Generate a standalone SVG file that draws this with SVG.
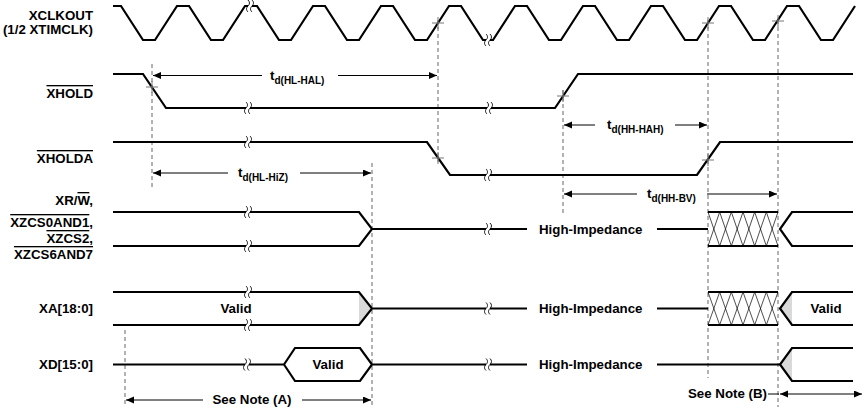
<svg xmlns="http://www.w3.org/2000/svg" width="864" height="416" viewBox="0 0 864 416">
<style>
text{font-family:"Liberation Sans",Arial,sans-serif;font-weight:bold;font-size:13.3px;fill:#000}
.lbl{text-anchor:end}
.mid{text-anchor:middle}
.sub{font-size:10px}
.ol{text-decoration:overline}
.sig{fill:none;stroke:#000;stroke-width:2.2;stroke-linejoin:miter}
.dash{fill:none;stroke:#666;stroke-width:1;stroke-dasharray:4 3}
.arr{fill:none;stroke:#000;stroke-width:1}
.as{marker-start:url(#ah)}
.ae{marker-end:url(#ah)}
.xh{fill:none;stroke:#777;stroke-width:1}
.grey{fill:#d9d9d9;stroke:none}
.hat{fill:none;stroke:#000;stroke-width:0.7}
</style>
<defs>
<marker id="ah" markerWidth="9" markerHeight="8" refX="8" refY="3.5" orient="auto-start-reverse" markerUnits="userSpaceOnUse">
<path d="M0,0 L8,3.5 L0,7 Z" fill="#000"/>
</marker>
<g id="brk">
<rect x="-2" y="-3" width="4" height="6" fill="#fff"/>
<path d="M-2,-6 c2,2 2,4 0,6 c-2,2 -2,4 0,6 M2,-6 c2,2 2,4 0,6 c-2,2 -2,4 0,6" fill="none" stroke="#000" stroke-width="0.9"/>
</g>
<path id="hatch" class="hat" d="M0,0 L11.67,34 M11.67,0 L23.33,34 M23.33,0 L35,34 M35,0 L46.67,34 M46.67,0 L58.33,34 M58.33,0 L70,34 M11.67,0 L0,34 M23.33,0 L11.67,34 M35,0 L23.33,34 M46.67,0 L35,34 M58.33,0 L46.67,34 M70,0 L58.33,34"/>
<path id="xh" class="xh" d="M-6,0 H6 M0,-6 V6"/>
</defs>
<rect width="864" height="416" fill="#fff"/>

<g id="connectors">
<path class="dash" d="M125,330 V406 M152,64 V188 M372,163 V406 M438,20 V162 M563,90 V215 M708,20 V378 M778,20 V407"/>
<path class="arr as" d="M153,75.5 H262"/>
<path class="arr ae" d="M338,75.5 H437"/>
<path class="arr as" d="M153,173 H228"/>
<path class="arr ae" d="M300,173 H371"/>
<path class="arr as" d="M564,125 H595"/>
<path class="arr ae" d="M675,125 H707"/>
<path class="arr as" d="M564,194 H637"/>
<path class="arr ae" d="M707,194 H777"/>
<path class="arr as" d="M126,400 H203"/>
<path class="arr ae" d="M302,400 H371"/>
<path class="arr" d="M768,394 H779"/>
<path class="arr as ae" d="M780,394 H862"/>
<text x="270" y="80">t<tspan class="sub" dy="3.5">d(HL-HAL)</tspan></text>
<text x="238" y="177">t<tspan class="sub" dy="3.5">d(HL-HiZ)</tspan></text>
<text x="607" y="129">t<tspan class="sub" dy="3.5">d(HH-HAH)</tspan></text>
<text x="647" y="198">t<tspan class="sub" dy="3.5">d(HH-BV)</tspan></text>
<text class="mid" x="252" y="404">See Note (A)</text>
<text class="lbl" x="767" y="398">See Note (B)</text>
</g>

<g id="xclkout">
<text class="lbl" x="93" y="19.5">XCLKOUT</text>
<text class="lbl" x="93" y="34">(1/2 XTIMCLK)</text>
<path class="sig" d="M113,6 H121 L143,40 H155 L177,6 H189 L211,40 H223 L245,6 H257 L279,40 H291 L313,6 H325 L347,40 H359 L381,6 H393 L415,40 H427 L449,6 H461 L483,40 H493 L515,6 H527 L549,40 H561 L583,6 H595 L617,40 H629 L651,6 H663 L685,40 H697 L719,6 H731 L753,40 H765 L787,6 H799 L821,40 H833 L855,6"/>
<use href="#brk" x="250" y="6"/>
<use href="#brk" x="488" y="40"/>
<use href="#xh" x="438" y="23"/>
<use href="#xh" x="708" y="23"/>
<use href="#xh" x="778" y="21"/>
</g>

<g id="xhold">
<text class="lbl" x="93" y="98"><tspan class="ol">XHOLD</tspan></text>
<path class="sig" d="M113,74 H143 L166,108 H555 L578,74 H853"/>
<use href="#brk" x="248" y="108"/>
<use href="#brk" x="489" y="108"/>
<use href="#xh" x="152" y="87"/>
<use href="#xh" x="563" y="96"/>
</g>

<g id="xholda">
<text class="lbl" x="93" y="163"><tspan class="ol">XHOLDA</tspan></text>
<path class="sig" d="M113,142 H427 L450,175 H697 L720,142 H853"/>
<use href="#brk" x="248" y="142"/>
<use href="#brk" x="488" y="175"/>
<use href="#xh" x="438" y="158"/>
<use href="#xh" x="708" y="160"/>
</g>

<g id="xrw">
<text class="lbl" x="93" y="205">XR/<tspan class="ol">W</tspan>,</text>
<text class="lbl" x="93" y="227"><tspan class="ol">XZCS0AND1</tspan>,</text>
<text class="lbl" x="93" y="243"><tspan class="ol">XZCS2</tspan>,</text>
<text class="lbl" x="93" y="259"><tspan class="ol">XZCS6AND7</tspan></text>
<path class="sig" d="M113,212 H359 L372,229 L359,246 H113 M372,229 H527 M657,229 H708"/>
<use href="#brk" x="248" y="212"/>
<use href="#brk" x="248" y="246"/>
<use href="#brk" x="488" y="229"/>
<text x="539" y="233.5">High-Impedance</text>
<use href="#hatch" x="708" y="212"/>
<path class="sig" d="M708,212 H778 M708,246 H778 M853,212 H792 L780,229 L792,246 H853"/>
</g>

<g id="xa">
<text class="lbl" x="93" y="313">XA[18:0]</text>
<path class="grey" d="M359,292 L372,308.5 L359,325 Z"/>
<path class="sig" d="M113,292 H359 L372,308.5 L359,325 H113 M372,308.5 H527 M657,308.5 H708"/>
<use href="#brk" x="248" y="292"/>
<use href="#brk" x="248" y="325"/>
<use href="#brk" x="488" y="308.5"/>
<text class="mid" x="236" y="313">Valid</text>
<text x="539" y="313">High-Impedance</text>
<use href="#hatch" transform="translate(708,292) scale(1,0.97)"/>
<path class="grey" d="M792,292 L780,308.5 L792,325 Z"/>
<path class="sig" d="M708,292 H778 M708,325 H778 M853,292 H792 L780,308.5 L792,325 H853"/>
<text class="mid" x="826" y="313">Valid</text>
</g>

<g id="xd">
<text class="lbl" x="93" y="368.5">XD[15:0]</text>
<path class="sig" d="M113,364.5 H284 L295,348 H360 L372,364.5 L360,381 H295 L284,364.5 M372,364.5 H527 M657,364.5 H780"/>
<use href="#brk" x="247" y="364.5"/>
<use href="#brk" x="488" y="364.5"/>
<text class="mid" x="328" y="369">Valid</text>
<text x="539" y="369">High-Impedance</text>
<path class="grey" d="M792,348 L780,364.5 L792,381 Z"/>
<path class="sig" d="M853,348 H792 L780,364.5 L792,381 H853"/>
</g>
</svg>
